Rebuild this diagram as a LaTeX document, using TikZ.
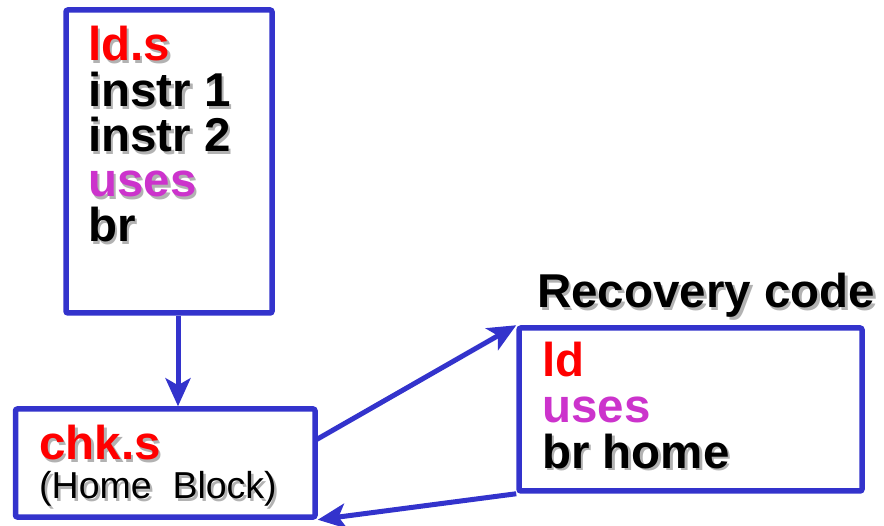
\documentclass[tikz,border=0pt]{standalone}
\usepackage{fontspec}
\setmainfont{Liberation Sans}
\usetikzlibrary{arrows.meta,calc}

\definecolor{frameblue}{RGB}{51,51,204}
\definecolor{codered}{RGB}{255,0,0}
\definecolor{codemagenta}{RGB}{204,51,204}
\definecolor{shadowgray}{RGB}{178,178,178}

% text with a soft drop shadow to the lower right
\newcommand{\shadowed}[2]{%
  \makebox[0pt][l]{\hspace{2.5pt}\raisebox{-2.5pt}{\color{shadowgray}#2}}{\color{#1}#2}}

\begin{document}
\begin{tikzpicture}[x=1pt,y=-1pt,
  box/.style={draw=frameblue, line width=5.5pt, rounded corners=2pt,
    rectangle, inner sep=0pt, fill=white},
  conn/.style={draw=frameblue, line width=5pt,
    -{Stealth[length=28pt,width=25pt,inset=7pt]}},
  big/.style={anchor=base west, inner sep=0pt,
    font=\fontsize{47.5}{45}\selectfont\bfseries},
  small/.style={anchor=base west, inner sep=0pt,
    font=\fontsize{37.5}{40}\selectfont}]
  \useasboundingbox (0,0) rectangle (884,526);

  % the three code blocks
  \node[box, minimum width=206pt, minimum height=303pt] (src) at (169,161.5) {};
  \node[box, minimum width=299.5pt, minimum height=108pt] (chk) at (165.25,463) {};
  \node[box, minimum width=343pt, minimum height=163pt] (rec) at (690.5,409.5) {};

  % speculative block
  \node[big] (s1) at (88,61)  {\shadowed{codered}{ld.s}};
  \node[big] (s2) at (88,107) {\shadowed{black}{instr 1}};
  \node[big] (s3) at (88,152) {\shadowed{black}{instr 2}};
  \node[big] (s4) at (88,197) {\shadowed{codemagenta}{uses}};
  \node[big] (s5) at (88,242) {\shadowed{black}{br}};

  % home block
  \node[big] (c1) at (39,460) {\shadowed{codered}{chk.s}};
  \node[small] (c2) at (39,499) {\shadowed{black}{(Home\ \ Block)}};

  % recovery block
  \node[big] (rl) at (537,308) {\shadowed{black}{Recovery code}};
  \node[big] (r1) at (542,377) {\color{codered}ld};
  \node[big] (r2) at (542,423) {\color{codemagenta}uses};
  \node[big] (r3) at (542,468) {\shadowed{black}{br home}};

  % control flow
  \draw[conn] ([xshift=9pt]src.south) -- ([xshift=9pt]src.south |- chk.north);
  \draw[conn] ($(chk.east)+(-2,-23)$) -- (rec.north west);
  \draw[conn] (rec.south west) -- (chk.south east);
\end{tikzpicture}
\end{document}
